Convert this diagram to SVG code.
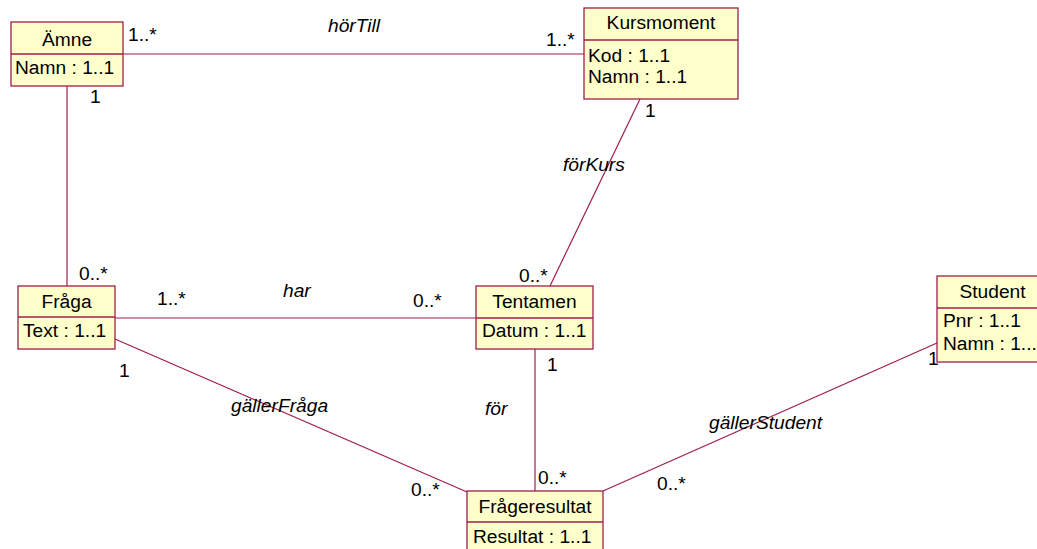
<svg xmlns="http://www.w3.org/2000/svg" width="1037" height="549" viewBox="0 0 1037 549">
<style>
text{font-family:"Liberation Sans",Arial,sans-serif;font-size:19.2px;fill:#000}
.box{fill:#FFFFCC;stroke:#A01E4E;stroke-width:1.3}
.div{stroke:#A01E4E;stroke-width:1.3}
.t{text-anchor:middle}
.lbl{font-style:italic}
.conn line{stroke:#A01E4E;stroke-width:1.2;fill:none}
</style>
<rect width="1037" height="549" fill="#fff"/>
<g id="connectors" class="conn">
<line x1="123" y1="54" x2="584" y2="54"/>
<line x1="67" y1="86" x2="67" y2="286"/>
<line x1="640" y1="99" x2="550" y2="286"/>
<line x1="115" y1="318" x2="476" y2="318"/>
<line x1="115" y1="339" x2="467" y2="492"/>
<line x1="535" y1="349" x2="535" y2="491"/>
<line x1="937" y1="343" x2="603" y2="491"/>
</g>
<g id="labels">
<text x="128" y="41">1..*</text>
<text x="90" y="103">1</text>
<text x="328" y="32" class="lbl">hörTill</text>
<text x="546" y="46">1..*</text>
<text x="645" y="117">1</text>
<text x="563" y="171" class="lbl">förKurs</text>
<text x="519" y="282">0..*</text>
<text x="413" y="307">0..*</text>
<text x="547" y="371">1</text>
<text x="79" y="280">0..*</text>
<text x="157" y="305">1..*</text>
<text x="283" y="297" class="lbl">har</text>
<text x="119" y="377">1</text>
<text x="231" y="412" class="lbl">gällerFråga</text>
<text x="485" y="415" class="lbl">för</text>
<text x="709" y="429" class="lbl">gällerStudent</text>
<text x="657" y="490">0..*</text>
<text x="538" y="484">0..*</text>
<text x="411" y="496">0..*</text>
<text x="928" y="365">1</text>
</g>
<g id="Amne">
<rect class="box" x="11" y="22" width="112" height="64"/>
<line class="div" x1="11" y1="54" x2="123" y2="54"/>
<text class="t" x="67" y="46">Ämne</text>
<text x="15" y="74">Namn : 1..1</text>
</g>
<g id="Kursmoment">
<rect class="box" x="584" y="8" width="154" height="91"/>
<line class="div" x1="584" y1="40" x2="738" y2="40"/>
<text class="t" x="661" y="29">Kursmoment</text>
<text x="588" y="62">Kod : 1..1</text>
<text x="588" y="83">Namn : 1..1</text>
</g>
<g id="Fraga">
<rect class="box" x="18" y="286" width="97" height="63"/>
<line class="div" x1="18" y1="317" x2="115" y2="317"/>
<text class="t" x="66.5" y="308">Fråga</text>
<text x="23" y="337">Text : 1..1</text>
</g>
<g id="Tentamen">
<rect class="box" x="476" y="286" width="117" height="63"/>
<line class="div" x1="476" y1="318" x2="593" y2="318"/>
<text class="t" x="534.5" y="308">Tentamen</text>
<text x="482" y="337">Datum : 1..1</text>
</g>
<g id="Student">
<rect class="box" x="937" y="276" width="110" height="86"/>
<line class="div" x1="937" y1="308" x2="1047" y2="308"/>
<text class="t" x="992.5" y="298">Student</text>
<text x="943" y="327">Pnr : 1..1</text>
<text x="943" y="350">Namn : 1...</text>
</g>
<g id="Frageresultat">
<rect class="box" x="467" y="491" width="136" height="70"/>
<line class="div" x1="467" y1="522" x2="603" y2="522"/>
<text class="t" x="535" y="513">Frågeresultat</text>
<text x="473" y="543">Resultat : 1..1</text>
</g>
</svg>
